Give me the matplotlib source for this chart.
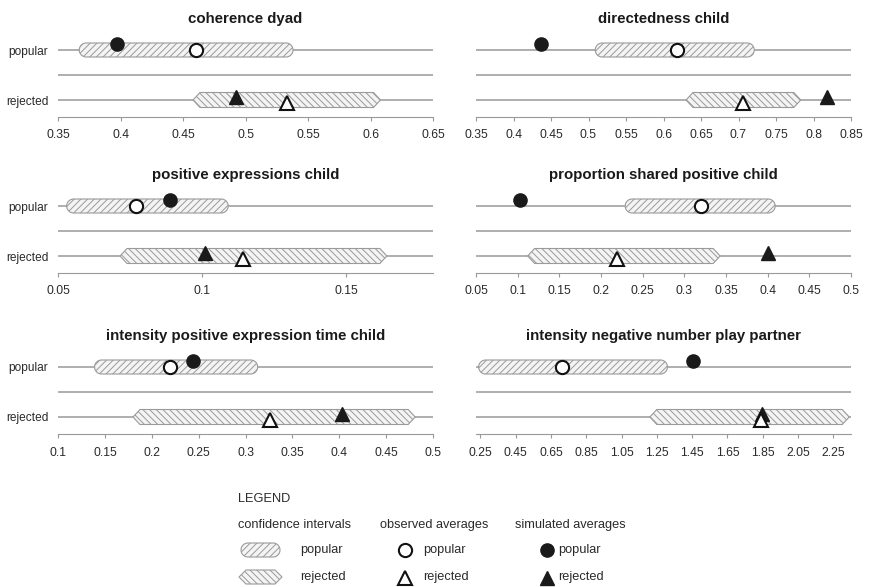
import matplotlib
matplotlib.use("Agg")
import matplotlib.pyplot as plt
import numpy as np
from matplotlib.patches import Polygon

plt.rcParams['font.family'] = ['Liberation Sans', 'DejaVu Sans']
plt.rcParams['hatch.linewidth'] = 0.7

# data per panel
titles = ["coherence dyad", "directedness child",
          "positive expressions child", "proportion shared positive child",
          "intensity positive expression time child", "intensity negative number play partner"]
xlims = [(0.35, 0.65), (0.35, 0.85), (0.05, 0.18), (0.05, 0.5), (0.1, 0.5), (0.225, 2.35)]
tick_labels = [
    ["0.35", "0.4", "0.45", "0.5", "0.55", "0.6", "0.65"],
    ["0.35", "0.4", "0.45", "0.5", "0.55", "0.6", "0.65", "0.7", "0.75", "0.8", "0.85"],
    ["0.05", "0.1", "0.15"],
    ["0.05", "0.1", "0.15", "0.2", "0.25", "0.3", "0.35", "0.4", "0.45", "0.5"],
    ["0.1", "0.15", "0.2", "0.25", "0.3", "0.35", "0.4", "0.45", "0.5"],
    ["0.25", "0.45", "0.65", "0.85", "1.05", "1.25", "1.45", "1.65", "1.85", "2.05", "2.25"],
]
ci_popular = [(0.367, 0.538), (0.509, 0.721), (0.053, 0.109), (0.229, 0.409), (0.139, 0.313), (0.24, 1.31)]
ci_rejected = [(0.458, 0.608), (0.63, 0.783), (0.0715, 0.164), (0.112, 0.343), (0.18, 0.481), (1.21, 2.34)]
obs_popular = [0.46, 0.618, 0.077, 0.32, 0.219, 0.71]
obs_rejected = [0.533, 0.706, 0.114, 0.219, 0.326, 1.84]
sim_popular = [0.397, 0.437, 0.089, 0.103, 0.244, 1.456]
sim_rejected = [0.492, 0.818, 0.101, 0.40, 0.403, 1.845]
groups = ["popular", "rejected"]

W, H = 869, 587
fig = plt.figure(figsize=(W / 100, H / 100), dpi=100)

col_left = [58, 476]   # px
row_axis = [117, 273, 434]  # px of the axis line
ax_w, ax_h = 375, 87

LINE_C = '#a8a8a8'
BAND_C = '#9a9a9a'
MARK_C = '#1a1a1a'
TXT_C = '#2a2a2a'


def band_poly(lo, hi, y, kind, rx, hh):
    if kind == 'popular':  # capsule with round ends
        t = np.linspace(-np.pi / 2, np.pi / 2, 24)
        right = np.column_stack([hi - rx + rx * np.cos(t), y + hh * np.sin(t)])
        t2 = np.linspace(np.pi / 2, 3 * np.pi / 2, 24)
        left = np.column_stack([lo + rx + rx * np.cos(t2), y + hh * np.sin(t2)])
        pts = np.vstack([right, left])
        hatch = '/////'
    else:  # pointed ends
        pts = [(lo, y), (lo + rx, y + hh), (hi - rx, y + hh), (hi, y), (hi - rx, y - hh), (lo + rx, y - hh)]
        hatch = '\\\\\\\\\\'
    return Polygon(pts, closed=True, facecolor='#f4f4f4', edgecolor=BAND_C,
                   hatch=hatch, lw=0.8, zorder=2)


for i in range(6):
    r, c = divmod(i, 2)
    bottom = H - row_axis[r]
    ax = fig.add_axes([col_left[c] / W, bottom / H, ax_w / W, ax_h / H])
    ax.set_xlim(*xlims[i])
    ax.set_ylim(-0.34, 1.4)
    for y in (1, 0.5, 0):
        ax.axhline(y, color=LINE_C, lw=1.3, zorder=1)

    rx = 7 * (xlims[i][1] - xlims[i][0]) / ax_w
    ax.add_patch(band_poly(ci_popular[i][0], ci_popular[i][1], 1, 'popular', rx, 0.14))
    ax.add_patch(band_poly(ci_rejected[i][0], ci_rejected[i][1], 0, 'rejected', rx, 0.15))

    ax.plot(sim_popular[i], 1.13, 'o', ms=9.5, color=MARK_C, zorder=3)
    ax.plot(sim_rejected[i], 0.06, '^', ms=9.5, color=MARK_C, zorder=3)
    ax.plot(obs_popular[i], 1.0, 'o', ms=9.5, mfc='white', mec='#111111', mew=1.5, zorder=4)
    ax.plot(obs_rejected[i], -0.05, '^', ms=9.5, mfc='white', mec='#111111', mew=1.5, zorder=4)

    ax.set_xticks([float(s) for s in tick_labels[i]])
    ax.set_xticklabels(tick_labels[i])
    ax.tick_params(axis='x', length=3, width=0.8, color='#999999', labelsize=8.7,
                   labelcolor=TXT_C, pad=6)
    if c == 0:
        ax.set_yticks([1, 0])
        ax.set_yticklabels(groups)
        ax.tick_params(axis='y', length=0, labelsize=8.6, labelcolor=TXT_C, pad=7)
    else:
        ax.set_yticks([])
    for s in ('top', 'right', 'left'):
        ax.spines[s].set_visible(False)
    ax.spines['bottom'].set_color('#999999')
    ax.set_title(titles[i], fontsize=10.8, fontweight='bold', color='#1a1a1a', pad=5)

# legend drawn in pixel coordinates
lg = fig.add_axes([0, 0, 1, 1])
lg.set_xlim(0, W)
lg.set_ylim(H, 0)
lg.axis('off')
fs = 9.2
lg.text(238, 499, "LEGEND", fontsize=fs, color=TXT_C, va='center')
lg.text(238, 525, "confidence intervals", fontsize=fs, color=TXT_C, va='center')
lg.text(380, 525, "observed averages", fontsize=fs, color=TXT_C, va='center')
lg.text(515, 525, "simulated averages", fontsize=fs, color=TXT_C, va='center')
lg.add_patch(band_poly(241, 280, 550, 'popular', 7, 7))
lg.add_patch(band_poly(239, 282, 577, 'rejected', 7, 7))
lg.plot(405, 550, 'o', ms=9.5, mfc='white', mec='#111111', mew=1.5)
lg.plot(405, 578, '^', ms=9.5, mfc='white', mec='#111111', mew=1.5)
lg.plot(547, 550, 'o', ms=9.5, color=MARK_C)
lg.plot(547, 578, '^', ms=9.5, color=MARK_C)
for x in (300, 423, 558):
    lg.text(x, 550, "popular", fontsize=fs, color=TXT_C, va='center')
    lg.text(x, 577, "rejected", fontsize=fs, color=TXT_C, va='center')

fig.savefig("out.png", dpi=100)
